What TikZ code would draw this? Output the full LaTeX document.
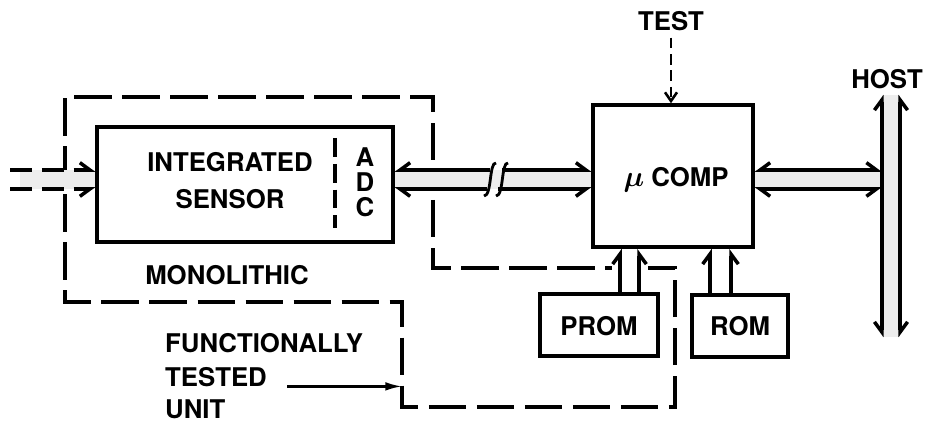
\documentclass[tikz,border=0pt]{standalone}
\usepackage{amsmath}
\usepackage{fontspec}
\setmainfont{TeX Gyre Heros}
\usetikzlibrary{arrows.meta}

\tikzset{
    hb/.tip={Straight Barb[harpoon, length=3mm, width=4.4mm]},
    hbs/.tip={Straight Barb[harpoon, swap, length=3mm, width=4.4mm]},
}

\begin{document}
\begin{tikzpicture}[
    x=0.3mm, y=-0.3mm,
    box/.style={
        rectangle, draw=black, line width=3pt,
        inner sep=0pt
    },
    lbl/.style={font=\fontsize{22}{25}\selectfont\bfseries, inner sep=0pt},
    busline/.style={line width=3pt},
    busfill/.style={fill=gray!14},
    border/.style={line width=2.8pt, dash pattern=on 32pt off 9pt},
    inline/.style={line width=3pt, dash pattern=on 18.7pt off 8.5pt},
    divider/.style={line width=2.8pt, dash pattern=on 16pt off 6pt},
    testline/.style={line width=2.2pt, dash pattern=on 9pt off 5pt,
        -{Straight Barb[length=2.6mm, width=3.6mm]}},
    ftarrow/.style={line width=2pt, -{Latex[length=5mm, width=2.6mm]}},
]

\useasboundingbox (0,0) rectangle (930,423);

% bus levels
\coordinate (upY) at (0,170);
\coordinate (loY) at (0,189);
\coordinate (src) at (10,180);
\coordinate (brk) at (496,180);
\coordinate (ftend) at (402,387);

% blocks
\node[box, minimum width=8.88cm, minimum height=3.45cm] (sensor) at (245,184.5) {};
\node[box, minimum width=4.8cm, minimum height=4.26cm] (ucomp) at (673,176) {};
\node[box, minimum width=3.54cm, minimum height=1.86cm] (prom) at (599,325) {};
\node[box, minimum width=2.88cm, minimum height=1.86cm] (rom) at (740,326) {};
\node[busfill, minimum width=5.4mm, minimum height=72.6mm, inner sep=0pt] (hbus) at (891,216) {};

% texts
\node[lbl, align=center, font=\fontsize{22}{31.5}\selectfont\bfseries] (sensortxt) at (230,181) {INTEGRATED\\SENSOR};
\node[lbl, align=center, font=\fontsize{22}{21.3}\selectfont\bfseries] (adc) at (365,182) {A\\D\\C};
\node[lbl] (mono) at (227,275) {MONOLITHIC};
\node[lbl] (ucomptxt) at (676,180) {{\fontsize{30}{30}\selectfont$\boldsymbol{\mu}$}~COMP};
\node[lbl] (promtxt) at (599,326) {PROM};
\node[lbl] (romtxt) at (740,326) {ROM};
\node[lbl] (test) at (671,21) {TEST};
\node[lbl] (host) at (887,79) {HOST};
\node[lbl, anchor=west] (func) at (165,343) {FUNCTIONALLY};
\node[lbl, anchor=west] (tested) at (165,377) {TESTED};
\node[lbl, anchor=west] (unit) at (165,409) {UNIT};

% ADC divider
\draw[divider] (335,138) -- (335,228);

% functionally tested unit boundary
\draw[border] (433,160) -- (433,97) -- (65,97) -- (65,302) -- (402,302)
    -- (402,407) -- (675,407) -- (675,268) -- (648,268);
\draw[border] (433,200) -- (433,268) -- (612,268);

% input
\fill[busfill] ([xshift=3mm]src |- upY) rectangle (sensor.west |- loY);
\draw[inline, -{hb}] (src |- upY) -- (sensor.west |- upY);
\draw[inline, -{hbs}] (src |- loY) -- (sensor.west |- loY);

% sensor to micro computer
\fill[busfill] (sensor.east |- upY) rectangle (ucomp.west |- loY);
\draw[busline, {hbs}-] (sensor.east |- upY) -- ([xshift=-1.8mm]brk |- upY);
\draw[busline, {hb}-] (sensor.east |- loY) -- ([xshift=-2.7mm]brk |- loY);
\draw[busline, -{hb}] ([xshift=1.8mm]brk |- upY) -- (ucomp.west |- upY);
\draw[busline, -{hbs}] ([xshift=0.6mm]brk |- loY) -- (ucomp.west |- loY);
\draw[line width=2.4pt] (496,163) .. controls (489,162) and (492,196) .. (484,196);
\draw[line width=2.4pt] (508,163) .. controls (501,162) and (504,196) .. (496,196);

% micro computer to host
\fill[busfill] (ucomp.east |- upY) rectangle (hbus.west |- loY);
\draw[busline, {hbs}-{hb}] (ucomp.east |- upY) -- (hbus.west |- upY);
\draw[busline, {hb}-{hbs}] (ucomp.east |- loY) -- (hbus.west |- loY);
\draw[busline, {hbs}-{hb}] (hbus.south west) -- (hbus.north west);
\draw[busline, {hb}-{hbs}] (hbus.south east) -- (hbus.north east);

% memories
\draw[busline, -{hb}] ([xshift=6.3mm]prom.north) -- ([xshift=6.3mm]prom.north |- ucomp.south);
\draw[busline, -{hbs}] ([xshift=12mm]prom.north) -- ([xshift=12mm]prom.north |- ucomp.south);
\draw[busline, -{hb}] ([xshift=-9mm]rom.north) -- ([xshift=-9mm]rom.north |- ucomp.south);
\draw[busline, -{hbs}] ([xshift=-2.7mm]rom.north) -- ([xshift=-2.7mm]rom.north |- ucomp.south);

% test and labels
\draw[testline] ([yshift=-2mm]test.south) -- (test.south |- ucomp.north);
\draw[ftarrow] ([xshift=6mm]tested.base east) -- (tested.base -| ftend);

\end{tikzpicture}
\end{document}
